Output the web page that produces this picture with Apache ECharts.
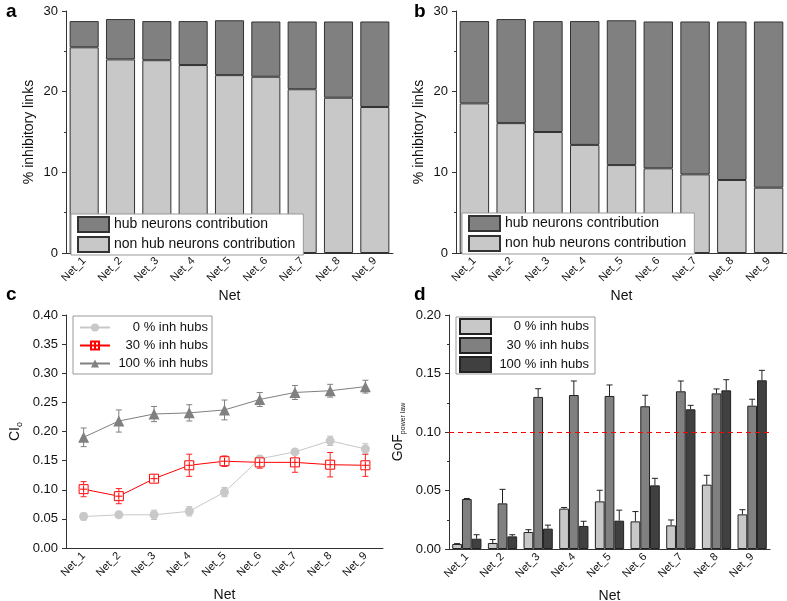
<!DOCTYPE html>
<html>
<head>
<meta charset="utf-8">
<script src="https://cdn.jsdelivr.net/npm/echarts@6/dist/echarts.min.js"></script>
<style>html,body{margin:0;padding:0;background:#fff}#c{width:787px;height:601px}</style>
</head>
<body>
<div id="c"></div>
<script>
const categories = ['Net_1','Net_2','Net_3','Net_4','Net_5','Net_6','Net_7','Net_8','Net_9'];
const yTicksA = [0, 10, 20, 30];
// panel a
const aNonHub = [25.5, 24.0, 23.9, 23.3, 22.05, 21.85, 20.3, 19.25, 18.1];
const aHub = [3.25, 5.0, 4.85, 5.45, 6.8, 6.85, 8.4, 9.45, 10.6];
// panel b
const bNonHub = [18.55, 16.1, 15.0, 13.4, 10.9, 10.5, 9.75, 9.05, 8.1];
const bHub = [10.2, 12.9, 13.75, 15.35, 17.95, 18.2, 18.95, 19.65, 20.6];
// panel c
const ci0 = [0.054, 0.057, 0.057, 0.063, 0.096, 0.153, 0.165, 0.184, 0.170];
const ci0Err = [0.006, 0.003, 0.008, 0.008, 0.008, 0.005, 0.004, 0.008, 0.009];
const ci30 = [0.101, 0.089, 0.119, 0.142, 0.149, 0.147, 0.147, 0.143, 0.142];
const ci30Err = [0.013, 0.013, 0.006, 0.019, 0.009, 0.010, 0.017, 0.021, 0.019];
const ci100 = [0.190, 0.218, 0.230, 0.232, 0.237, 0.255, 0.267, 0.270, 0.277];
const ci100Err = [0.016, 0.019, 0.013, 0.014, 0.017, 0.012, 0.012, 0.011, 0.011];
// panel d
const gof0 = [0.0043, 0.0051, 0.0145, 0.0345, 0.0407, 0.0236, 0.0202, 0.055, 0.0296];
const gof0Err = [0.0003, 0.003, 0.002, 0.001, 0.0095, 0.0084, 0.0046, 0.008, 0.004];
const gof30 = [0.0427, 0.039, 0.130, 0.1316, 0.1308, 0.122, 0.1348, 0.133, 0.1225];
const gof30Err = [0.0005, 0.012, 0.007, 0.012, 0.0094, 0.0094, 0.0088, 0.0038, 0.0055];
const gof100 = [0.0088, 0.0108, 0.0174, 0.0197, 0.0242, 0.0544, 0.1194, 0.1356, 0.1442];
const gof100Err = [0.0034, 0.0014, 0.003, 0.004, 0.009, 0.006, 0.0034, 0.0091, 0.0085];
const gofThreshold = 0.10;

const legendNames = ['hub neurons contribution', 'non hub neurons contribution'];
const inhNames = ['0 % inh hubs', '30 % inh hubs', '100 % inh hubs'];

const FONT = 'Liberation Sans';
const AX = '#333';
const chart = echarts.init(document.getElementById('c'));

function xAx(gi, gap) {
  return {
    type: 'category', gridIndex: gi, data: categories,
    name: 'Net', nameLocation: 'middle', nameGap: gap,
    nameTextStyle: {fontSize: 14, color: '#111'},
    axisLine: {lineStyle: {color: AX}},
    axisTick: {alignWithLabel: true, length: 4, lineStyle: {color: AX}},
    axisLabel: {rotate: 45, fontSize: 11, color: '#111', margin: 6, interval: 0}
  };
}
function yAx(gi, max, interval, name, nameGap, rich, fmt, minor) {
  return {
    type: 'value', gridIndex: gi, min: 0, max: max, interval: interval,
    name: name, nameLocation: 'middle', nameGap: nameGap,
    nameTextStyle: {fontSize: 14, color: '#111', rich: rich},
    axisLine: {show: true, lineStyle: {color: AX}},
    axisTick: {show: true, length: 4, lineStyle: {color: AX}},
    minorTick: {show: minor, splitNumber: 2, length: 2, lineStyle: {color: AX}},
    splitLine: {show: false},
    axisLabel: {fontSize: 13, color: '#111', margin: 8, formatter: fmt}
  };
}

function errSeries(xi, values, errs, opts) {
  return {
    type: 'custom', xAxisIndex: xi, yAxisIndex: xi, z: opts.z || 3, silent: true,
    data: values.map((v, i) => [i, v, errs[i]]),
    encode: {x: 0, y: 1},
    renderItem: function (params, api) {
      const i = api.value(0), v = api.value(1), e = api.value(2);
      let dx = 0;
      if (opts.slot != null) {
        const band = api.size([1, 0])[0];
        const bw = band * (1 - opts.gap) / 3;
        dx = (opts.slot - 1) * bw;
      }
      const p0 = api.coord([i, opts.upOnly ? v : v - e]);
      const p1 = api.coord([i, v + e]);
      const x = p0[0] + dx;
      const c = opts.cap;
      const st = {stroke: opts.color, lineWidth: 1};
      const ch = [
        {type: 'line', shape: {x1: x, y1: p0[1], x2: x, y2: p1[1]}, style: st},
        {type: 'line', shape: {x1: x - c, y1: p1[1], x2: x + c, y2: p1[1]}, style: st}
      ];
      if (!opts.upOnly) ch.push({type: 'line', shape: {x1: x - c, y1: p0[1], x2: x + c, y2: p0[1]}, style: st});
      return {type: 'group', children: ch};
    }
  };
}

const GAPD = 0.18;
const sqPlus = 'path://M0,0L10,0L10,10L0,10Z M5,1L5,9 M1,5L9,5';

const option = {
  animation: false,
  backgroundColor: '#fff',
  textStyle: {fontFamily: FONT},
  graphic: [
    {type: 'text', left: 6, top: 2, style: {text: 'a', font: 'bold 19px ' + FONT, fill: '#000'}},
    {type: 'text', left: 414, top: 2, style: {text: 'b', font: 'bold 19px ' + FONT, fill: '#000'}},
    {type: 'text', left: 6, top: 285, style: {text: 'c', font: 'bold 19px ' + FONT, fill: '#000'}},
    {type: 'text', left: 414, top: 285, style: {text: 'd', font: 'bold 19px ' + FONT, fill: '#000'}}
  ],
  grid: [
    {left: 66, top: 11, width: 327, height: 242, outerBoundsMode: 'none'},
    {left: 456, top: 11, width: 331, height: 242, outerBoundsMode: 'none'},
    {left: 66, top: 315, width: 317, height: 233, outerBoundsMode: 'none'},
    {left: 449, top: 315, width: 321, height: 234, outerBoundsMode: 'none'}
  ],
  xAxis: [xAx(0, 36), xAx(1, 36), xAx(2, 40), xAx(3, 40)],
  yAxis: [
    yAx(0, 30, 10, '% inhibitory links', 30, {}, null, true),
    yAx(1, 30, 10, '% inhibitory links', 30, {}, null, true),
    yAx(2, 0.4, 0.05, 'CI{s|o}', 42, {s: {fontSize: 9, verticalAlign: 'bottom', padding: [8, 0, 0, 0]}}, v => v.toFixed(2), false),
    yAx(3, 0.2, 0.05, 'GoF{s|power law}', 42, {s: {fontSize: 7, verticalAlign: 'bottom', padding: [10, 0, 0, 0]}}, v => v.toFixed(2), true)
  ],
  legend: [
    {
      selectedMode: false, data: legendNames, orient: 'vertical', left: 71, top: 214,
      icon: 'rect', itemWidth: 31, itemHeight: 15, itemGap: 3,
      padding: [2, 8, 2, 6], backgroundColor: '#fff', borderColor: '#999', borderWidth: 1, borderRadius: 0,
      textStyle: {fontSize: 14, color: '#111', padding: [0, 0, 0, 0]}
    },
    {
      selectedMode: false, data: legendNames.map(n => n + ' '), orient: 'vertical', left: 462, top: 213,
      icon: 'rect', itemWidth: 31, itemHeight: 15, itemGap: 3,
      padding: [2, 8, 2, 6], backgroundColor: '#fff', borderColor: '#999', borderWidth: 1, borderRadius: 0,
      formatter: n => n.trim(),
      textStyle: {fontSize: 14, color: '#111'}
    },
    {
      selectedMode: false, data: inhNames, orient: 'vertical', left: 73, top: 316,
      itemWidth: 30, itemHeight: 10, itemGap: 5,
      padding: [5, 4, 4, 6], backgroundColor: '#fff', borderColor: '#999', borderWidth: 1, borderRadius: 0,
      formatter: n => '{t|' + n + '}',
      textStyle: {fontSize: 13, color: '#111', rich: {t: {fontSize: 13, width: 93, align: 'right'}}}
    },
    {
      selectedMode: false, data: inhNames.map(n => n + ' '), orient: 'vertical', left: 456, top: 317,
      icon: 'rect', itemWidth: 31, itemHeight: 15, itemGap: 2,
      padding: [1, 6, 1, 3], backgroundColor: '#fff', borderColor: '#999', borderWidth: 1, borderRadius: 0,
      formatter: n => '{t|' + n.trim() + '}',
      textStyle: {fontSize: 13, color: '#111', rich: {t: {fontSize: 13, width: 93, align: 'right'}}}
    }
  ],
  series: [
    // a
    {name: legendNames[1], type: 'bar', xAxisIndex: 0, yAxisIndex: 0, stack: 'a', data: aNonHub, barCategoryGap: '20%',
      itemStyle: {color: '#c8c8c8', borderColor: '#333', borderWidth: 1}},
    {name: legendNames[0], type: 'bar', xAxisIndex: 0, yAxisIndex: 0, stack: 'a', data: aHub, barCategoryGap: '20%',
      itemStyle: {color: '#808080', borderColor: '#333', borderWidth: 1}},
    // b
    {name: legendNames[1] + ' ', type: 'bar', xAxisIndex: 1, yAxisIndex: 1, stack: 'b', data: bNonHub, barCategoryGap: '20%',
      itemStyle: {color: '#c8c8c8', borderColor: '#333', borderWidth: 1}},
    {name: legendNames[0] + ' ', type: 'bar', xAxisIndex: 1, yAxisIndex: 1, stack: 'b', data: bHub, barCategoryGap: '20%',
      itemStyle: {color: '#808080', borderColor: '#333', borderWidth: 1}},
    // c
    errSeries(2, ci0, ci0Err, {color: '#c0c0c0', cap: 3}),
    errSeries(2, ci30, ci30Err, {color: '#ff2020', cap: 3}),
    errSeries(2, ci100, ci100Err, {color: '#808080', cap: 3}),
    {name: inhNames[0], type: 'line', xAxisIndex: 2, yAxisIndex: 2, data: ci0, z: 4,
      symbol: 'circle', symbolSize: 9, lineStyle: {color: '#c8c8c8', width: 1},
      itemStyle: {color: '#c8c8c8', borderWidth: 0}},
    {name: inhNames[1], type: 'line', xAxisIndex: 2, yAxisIndex: 2, data: ci30, z: 5,
      symbol: sqPlus, symbolSize: 9, lineStyle: {color: '#ff0000', width: 1},
      itemStyle: {color: '#fff', borderColor: '#ff0000', borderWidth: 1}},
    {name: inhNames[2], type: 'line', xAxisIndex: 2, yAxisIndex: 2, data: ci100, z: 6,
      symbol: 'triangle', symbolSize: 11, lineStyle: {color: '#808080', width: 1},
      itemStyle: {color: '#808080', borderWidth: 0}},
    // d
    {name: inhNames[0] + ' ', type: 'bar', xAxisIndex: 3, yAxisIndex: 3, data: gof0, barGap: 0, barCategoryGap: (GAPD * 100) + '%',
      itemStyle: {color: '#c8c8c8', borderColor: '#222', borderWidth: 1},
      markLine: {silent: true, symbol: 'none', label: {show: false},
        lineStyle: {color: '#ff0000', type: [5, 4], width: 1}, data: [{yAxis: gofThreshold}]}},
    {name: inhNames[1] + ' ', type: 'bar', xAxisIndex: 3, yAxisIndex: 3, data: gof30, barGap: 0, barCategoryGap: (GAPD * 100) + '%',
      itemStyle: {color: '#808080', borderColor: '#222', borderWidth: 1}},
    {name: inhNames[2] + ' ', type: 'bar', xAxisIndex: 3, yAxisIndex: 3, data: gof100, barGap: 0, barCategoryGap: (GAPD * 100) + '%',
      itemStyle: {color: '#404040', borderColor: '#222', borderWidth: 1}},
    errSeries(3, gof0, gof0Err, {color: '#222', cap: 3, slot: 0, gap: GAPD, upOnly: true, z: 4}),
    errSeries(3, gof30, gof30Err, {color: '#222', cap: 3, slot: 1, gap: GAPD, upOnly: true, z: 4}),
    errSeries(3, gof100, gof100Err, {color: '#222', cap: 3, slot: 2, gap: GAPD, upOnly: true, z: 4})
  ]
};
chart.setOption(option);
</script>
</body>
</html>
